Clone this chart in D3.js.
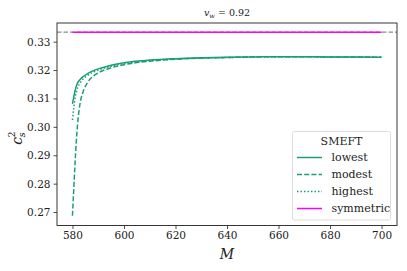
<!DOCTYPE html>
<html><head><meta charset="utf-8">
<script src="https://cdn.jsdelivr.net/npm/d3@7"></script>
<style>
body{margin:0;background:#fff;}
svg text{fill:#222;}
</style></head><body>
<svg id="c" width="407" height="271"></svg>
<script>
const M = [580, 580.5, 581, 581.5, 582, 583, 584, 586, 588, 590, 595, 600, 610, 620, 630, 640, 650, 660, 670, 680, 690, 700];
const lowest  = [0.3081,0.3105,0.3127,0.3143,0.3155,0.3167,0.3176,0.3188,0.3197,0.3204,0.3217,0.3226,0.3235,0.3240,0.3243,0.3245,0.3246,0.3247,0.3247,0.3246,0.3246,0.3245];
const modest  = [0.2687,0.2780,0.2870,0.2950,0.3010,0.3085,0.3120,0.3158,0.3178,0.3190,0.3208,0.3219,0.3231,0.3238,0.3242,0.3244,0.3246,0.3247,0.3247,0.3246,0.3246,0.3245];
const highest = [0.3024,0.3065,0.3100,0.3122,0.3138,0.3155,0.3167,0.3182,0.3192,0.3200,0.3213,0.3222,0.3233,0.3239,0.3242,0.3244,0.3246,0.3247,0.3247,0.3246,0.3246,0.3245];
const symmetric = M.map(()=>1/3);
const xTicks = [580, 600, 620, 640, 660, 680, 700];
const yTicks = [0.27, 0.28, 0.29, 0.30, 0.31, 0.32, 0.33];
const seriesNames = ["lowest","modest","highest","symmetric"];

const green = "#1b9e77", magenta = "#ff00ff";
const styles = {
  lowest:{color:green,dash:null},
  modest:{color:green,dash:"5,2.2"},
  highest:{color:green,dash:"1.5,2"},
  symmetric:{color:magenta,dash:null}
};
const dataMap = {lowest, modest, highest, symmetric};
const FF = "DejaVu Serif";

const L=57, R=397, T=23, B=225.5;
const x = d3.scaleLinear().domain([574, 706]).range([L, R]);
const y = d3.scaleLinear().domain([0.26526, 0.33657]).range([B, T]);
const svg = d3.select("#c");

svg.append("line").attr("x1",L).attr("x2",R).attr("y1",y(1/3)).attr("y2",y(1/3))
  .attr("stroke","#8c8c8c").attr("stroke-width",1.3).attr("stroke-dasharray","4.5,2");

const line = d3.line().x((d,i)=>x(M[i])).y(d=>y(d)).curve(d3.curveMonotoneX);
svg.append("defs").append("clipPath").attr("id","cp").append("rect")
  .attr("x",L).attr("y",T).attr("width",R-L).attr("height",B-T);
const g = svg.append("g").attr("clip-path","url(#cp)");
["highest","modest","lowest","symmetric"].forEach(k=>{
  g.append("path").attr("d",line(dataMap[k])).attr("fill","none")
    .attr("stroke",styles[k].color).attr("stroke-width",1.5)
    .attr("stroke-dasharray",styles[k].dash);
});

const xa = svg.append("g").attr("transform",`translate(0,${B})`)
  .call(d3.axisBottom(x).tickValues(xTicks).tickSize(3.5).tickPadding(3).tickFormat(d3.format("d")));
const ya = svg.append("g").attr("transform",`translate(${L},0)`)
  .call(d3.axisLeft(y).tickValues(yTicks).tickSize(3.5).tickPadding(3).tickFormat(d3.format(".2f")));
[xa,ya].forEach(a=>{a.attr("font-family",FF).attr("font-size",10.5);a.select(".domain").remove();a.selectAll("text").attr("fill","#222");a.selectAll("line").attr("stroke","#222").attr("stroke-width",0.8);});
svg.append("rect").attr("x",L).attr("y",T).attr("width",R-L).attr("height",B-T)
  .attr("fill","none").attr("stroke","#222").attr("stroke-width",0.9);

const t = svg.append("text").attr("x",227).attr("y",16).attr("text-anchor","middle").attr("font-size",9.5).attr("font-family",FF);
t.append("tspan").attr("font-style","italic").text("v");
t.append("tspan").attr("dy",2).attr("font-size",6.5).attr("font-style","italic").text("w");
t.append("tspan").attr("dy",-2).text(" = 0.92");

svg.append("text").attr("x",227).attr("y",259).attr("text-anchor","middle").attr("font-family",FF)
  .attr("font-size",14).attr("font-style","italic").text("M");

const yl = svg.append("text").attr("transform","translate(22,138) rotate(-90)").attr("text-anchor","middle").attr("font-size",14).attr("font-family",FF);
yl.append("tspan").attr("font-style","italic").text("c");
yl.append("tspan").attr("dy",3).attr("dx",-0.5).attr("font-size",9.5).attr("font-style","italic").text("s");
yl.append("tspan").attr("dy",-10).attr("dx",-5).attr("font-size",9.5).text("2");

const lg = svg.append("g");
lg.append("rect").attr("x",292.5).attr("y",131.5).attr("width",98).attr("height",88.5).attr("rx",2)
  .attr("fill","#fff").attr("fill-opacity",0.8).attr("stroke","#d5d5d5").attr("stroke-width",0.8);
lg.append("text").attr("x",341.5).attr("y",144.5).attr("text-anchor","middle").attr("font-size",11).attr("font-family",FF).text("SMEFT");
seriesNames.forEach((k,i)=>{
  const yy = 157.5 + i*17;
  lg.append("line").attr("x1",297).attr("x2",322).attr("y1",yy).attr("y2",yy)
    .attr("stroke",styles[k].color).attr("stroke-width",1.5).attr("stroke-dasharray",styles[k].dash);
  lg.append("text").attr("x",331.5).attr("y",yy+3.8).attr("font-size",11).attr("font-family",FF).text(k);
});
</script></body></html>
